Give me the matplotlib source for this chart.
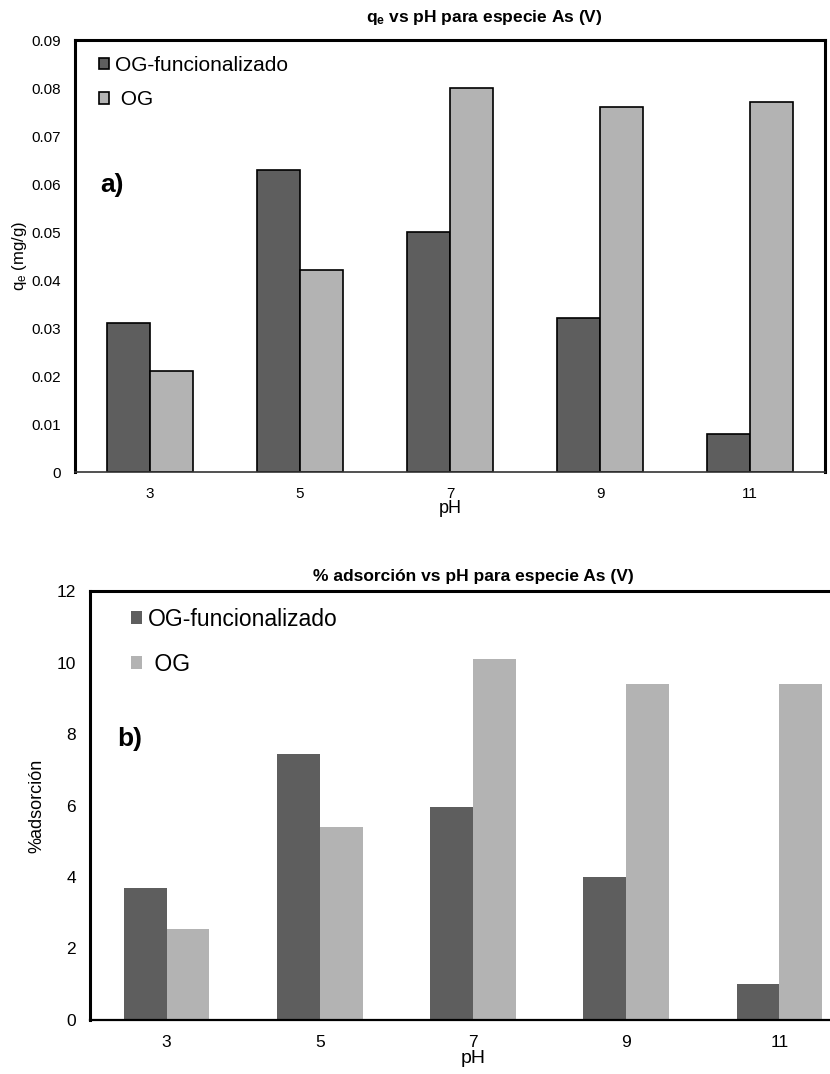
import numpy as np
import matplotlib
matplotlib.use("Agg")
import matplotlib.pyplot as plt

plt.rcParams['font.family'] = ['Liberation Sans', 'DejaVu Sans']
plt.rcParams['mathtext.fontset'] = 'custom'
plt.rcParams['mathtext.rm'] = 'Liberation Sans'
plt.rcParams['mathtext.it'] = 'Liberation Sans'
plt.rcParams['mathtext.bf'] = 'Liberation Sans:bold'

# data
ph_labels = ['3', '5', '7', '9', '11']
qe_func = [0.031, 0.063, 0.050, 0.032, 0.008]
qe_og = [0.021, 0.042, 0.080, 0.076, 0.077]
ads_func = [3.7, 7.45, 5.95, 4.0, 1.0]
ads_og = [2.55, 5.4, 10.1, 9.4, 9.4]

dark = '#5e5e5e'
light = '#b3b3b3'

fig = plt.figure(figsize=(8.3, 10.74), dpi=100)

# ---- a) qe vs pH
ax1 = fig.add_axes([0.0904, 0.5605, 0.9036, 0.4022])
x = np.arange(len(ph_labels))
w = 0.287
ax1.bar(x - w/2, qe_func, w, color=dark, edgecolor='black', linewidth=1.2, label='OG-funcionalizado')
ax1.bar(x + w/2, qe_og, w, color=light, edgecolor='black', linewidth=1.2, label=' OG')
ax1.set_xlim(-0.5, 4.5)
ax1.set_ylim(0, 0.09)
ax1.set_yticks(np.arange(0, 0.0901, 0.01))
ax1.set_yticklabels(['0', '0.01', '0.02', '0.03', '0.04', '0.05', '0.06', '0.07', '0.08', '0.09'])
ax1.set_xticks(x)
ax1.set_xticklabels(ph_labels)
ax1.tick_params(length=0, labelsize=11)
ax1.tick_params(axis='x', pad=11)
ax1.tick_params(axis='y', pad=10)
for s in ['left', 'top', 'right']:
    ax1.spines[s].set_linewidth(2.2)
ax1.spines['bottom'].set_linewidth(1.2)
ax1.spines['bottom'].set_color('#333333')
ax1.set_xlabel('pH', fontsize=13, labelpad=-1)
ax1.set_ylabel('q$_e$ (mg/g)', fontsize=12, labelpad=2)
ax1.set_title(r'$\mathbf{q_e}$ vs pH para especie As (V)', fontsize=12.5, fontweight='bold',
              pad=13, x=0.545)
ax1.text(0.033, 0.692, 'a)', transform=ax1.transAxes, fontsize=19, fontweight='bold', va='top')
ax1.legend(loc='upper left', frameon=False, fontsize=15, handlelength=0.48, handleheight=0.48,
           handletextpad=0.3, labelspacing=0.74, borderpad=0, borderaxespad=0,
           bbox_to_anchor=(0.032, 0.963))

# ---- b) % adsorcion vs pH
ax2 = fig.add_axes([0.1084, 0.0503, 0.923, 0.3994])
w2 = 0.28
ax2.bar(x - w2/2, ads_func, w2, color=dark, label='OG-funcionalizado')
ax2.bar(x + w2/2, ads_og, w2, color=light, label=' OG')
ax2.set_xlim(-0.5, 4.5)
ax2.set_ylim(0, 12)
ax2.set_yticks(np.arange(0, 13, 2))
ax2.set_xticks(x)
ax2.set_xticklabels(ph_labels)
ax2.tick_params(length=0, labelsize=12.5)
ax2.tick_params(axis='x', pad=11)
ax2.tick_params(axis='y', pad=10)
for s in ['left', 'top', 'right']:
    ax2.spines[s].set_linewidth(2.2)
ax2.spines['bottom'].set_linewidth(1.6)
ax2.set_xlabel('pH', fontsize=14, labelpad=0)
ax2.set_ylabel('%adsorción', fontsize=13, labelpad=8)
ax2.set_title('% adsorción vs pH para especie As (V)', fontsize=12.5, fontweight='bold', pad=7)
ax2.text(0.035, 0.683, 'b)', transform=ax2.transAxes, fontsize=19, fontweight='bold', va='top')
ax2.legend(loc='upper left', frameon=False, fontsize=16.5, handlelength=0.48, handleheight=0.48,
           handletextpad=0.26, labelspacing=0.97, borderpad=0, borderaxespad=0,
           bbox_to_anchor=(0.0535, 0.961))

fig.savefig('out.png', dpi=100)
